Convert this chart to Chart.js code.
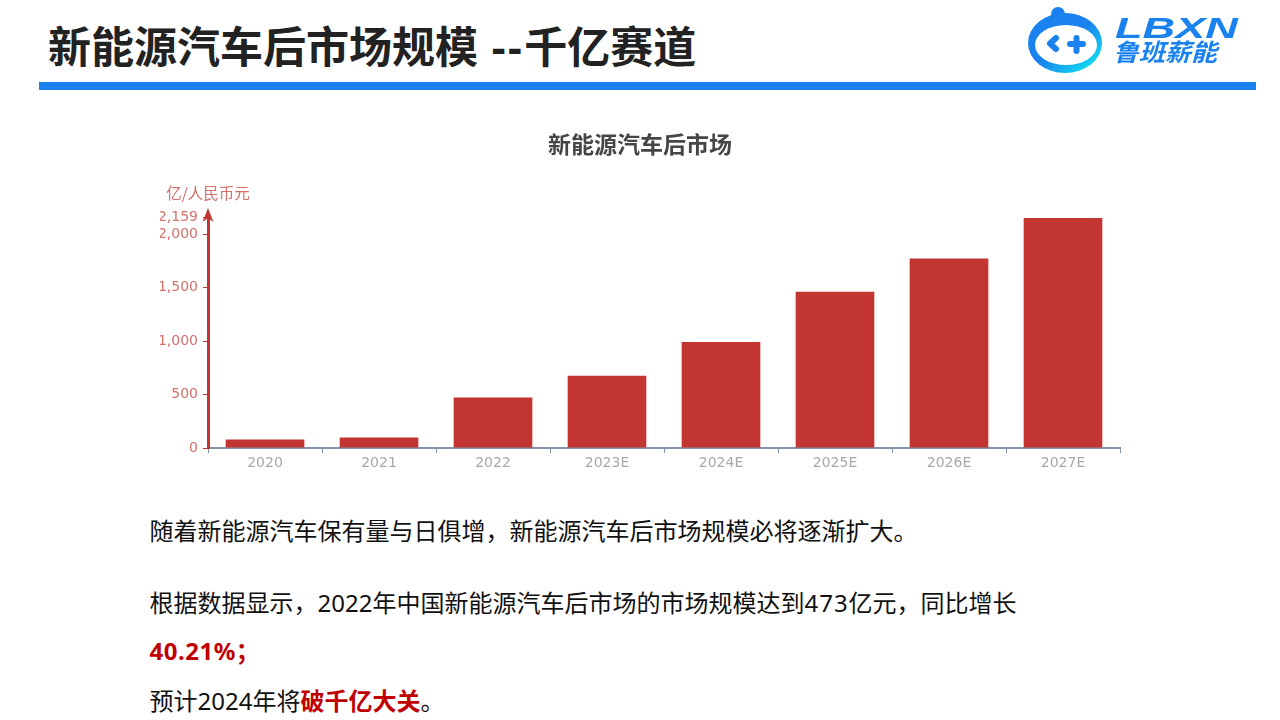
<!DOCTYPE html>
<html lang="zh">
<head>
<meta charset="utf-8">
<title>新能源汽车后市场规模</title>
<script src="https://cdn.jsdelivr.net/npm/chart.js@4"></script>
<style>
    html, body { margin: 0; padding: 0; background: #fff; }
    body { width: 1280px; height: 720px; overflow: hidden; position: relative; font-family: "Noto Sans", "Noto Sans CJK SC", sans-serif; color: #111; }
    .abs { position: absolute; white-space: nowrap; }
    #heading { left: 48px; top: 17px; font-size: 43px; line-height: 60px; font-weight: 700; color: #222; }
    #heading span { letter-spacing: 2.5px; }
    #rule { left: 39px; top: 82px; width: 1217px; height: 8px; background: #1a82ef; }
    #chartBox { left: 140px; top: 120px; width: 1000px; height: 360px; filter: blur(0.6px); }
    #logo { left: 1020px; top: 0; filter: blur(0.4px); }
    .para { left: 149.5px; font-size: 24px; line-height: 36px; }
    .hot { color: #c00000; font-weight: 700; }
</style>
</head>
<body>
<div class="abs" id="heading">新能源汽车后市场规模<span> --</span>千亿赛道</div>
<svg class="abs" id="logo" width="240" height="80" viewBox="1020 0 240 80">
    <defs>
        <linearGradient id="ring" x1="0" y1="0" x2="1" y2="1">
            <stop offset="0.5" stop-color="#1a82ef"/>
            <stop offset="0.9" stop-color="#12e0f0"/>
        </linearGradient>
    </defs>
    <circle cx="1058" cy="14" r="7" fill="#1a82ef"/>
    <ellipse cx="1065" cy="43" rx="37" ry="30" fill="url(#ring)"/>
    <ellipse cx="1066" cy="45" rx="31" ry="20" fill="#fff"/>
    <path d="M1056 38 L1050 43.5 L1056 49" fill="none" stroke="#1a82ef" stroke-width="6" stroke-linecap="round" stroke-linejoin="round"/>
    <path d="M1076.5 38 V51 M1070 44 H1083" fill="none" stroke="#1a82ef" stroke-width="6" stroke-linecap="round"/>
    <text x="1115" y="38" textLength="123" lengthAdjust="spacingAndGlyphs" font-family="Liberation Sans" font-weight="700" font-style="italic" font-size="30" fill="#1a82ef">LBXN</text>
    <text x="1113" y="61" textLength="104" lengthAdjust="spacingAndGlyphs" font-family="Noto Sans CJK SC" font-weight="700" font-style="italic" font-size="24" fill="#1a82ef">鲁班薪能</text>
</svg>
<div class="abs" id="rule"></div>
<div class="abs" id="chartBox"><canvas id="marketChart" width="1000" height="360"></canvas></div>
<div class="abs para" style="top:513px">随着新能源汽车保有量与日俱增，新能源汽车后市场规模必将逐渐扩大。</div>
<div class="abs para" style="top:585px">根据数据显示，2022年中国新能源汽车后市场的市场规模达到<span style="letter-spacing:1px">473</span>亿元，同比增长</div>
<div class="abs para hot" style="top:633px;letter-spacing:0.5px">40.21%；</div>
<div class="abs para" style="top:683px">预计2024年将<span class="hot">破千亿大关</span>。</div>

<script>
const years = ['2020', '2021', '2022', '2023E', '2024E', '2025E', '2026E', '2027E'];
const marketSize = [80, 98, 473, 675, 990, 1460, 1770, 2150];
const yTicks = [0, 500, 1000, 1500, 2000, 2159];
const yMax = 2159;
const unitLabel = '亿/人民币元';
const chartTitle = '新能源汽车后市场';

const RED = '#c23531';
const labelFont = '"DejaVu Sans", "Noto Sans CJK SC", sans-serif';

// arrow on top of the y axis and the unit text above it
const axisArrow = {
    id: 'axisArrow',
    afterDraw(chart) {
        const c = chart.ctx;
        const y = chart.scales.y;
        const x = y.right;
        const top = y.top;
        c.save();
        c.strokeStyle = RED;
        c.fillStyle = RED;
        c.lineWidth = 3;
        c.beginPath();
        c.moveTo(x, top);
        c.lineTo(x, top - 4);
        c.stroke();
        c.beginPath();
        c.moveTo(x, top - 9);
        c.lineTo(x + 5.5, top + 5);
        c.lineTo(x, top + 1);
        c.lineTo(x - 5.5, top + 5);
        c.closePath();
        c.fill();
        c.fillStyle = '#d4706c';
        c.font = '15.5px "Noto Sans CJK SC", sans-serif';
        c.textAlign = 'center';
        c.textBaseline = 'middle';
        c.fillText(unitLabel, x, top - 24);
        c.restore();
    }
};

new Chart(document.getElementById('marketChart'), {
    type: 'bar',
    data: {
        labels: years,
        datasets: [{
            data: marketSize,
            backgroundColor: RED,
            barPercentage: 0.69,
            categoryPercentage: 1
        }]
    },
    options: {
        responsive: false,
        animation: false,
        devicePixelRatio: 1,
        layout: { padding: { left: 20, right: 20, top: 0 } },
        plugins: {
            legend: { display: false },
            tooltip: { enabled: false },
            title: {
                display: true,
                text: chartTitle,
                color: '#464646',
                font: { family: '"Noto Sans CJK SC", sans-serif', size: 23, weight: '700' },
                padding: { top: 10, bottom: 59.4 }
            }
        },
        scales: {
            x: {
                afterFit(scale) { scale.height = 32; },
                border: { color: '#8493a8', width: 2 },
                grid: { offset: true, drawOnChartArea: false, drawTicks: true, tickLength: 5, color: '#8493a8' },
                ticks: { color: '#a8a8a8', font: { family: labelFont, size: 14 }, padding: 2, maxRotation: 0 }
            },
            y: {
                min: 0,
                max: yMax,
                afterFit(scale) { scale.width = 48; },
                afterBuildTicks(scale) { scale.ticks = yTicks.map(v => ({ value: v })); },
                border: { color: RED, width: 3 },
                grid: { drawOnChartArea: false, drawTicks: true, tickLength: 5, color: RED },
                ticks: {
                    color: '#d4706c',
                    font: { family: labelFont, size: 14 },
                    padding: 5,
                    callback: v => v.toLocaleString('en-US')
                }
            }
        }
    },
    plugins: [axisArrow]
});
</script>
</body>
</html>
